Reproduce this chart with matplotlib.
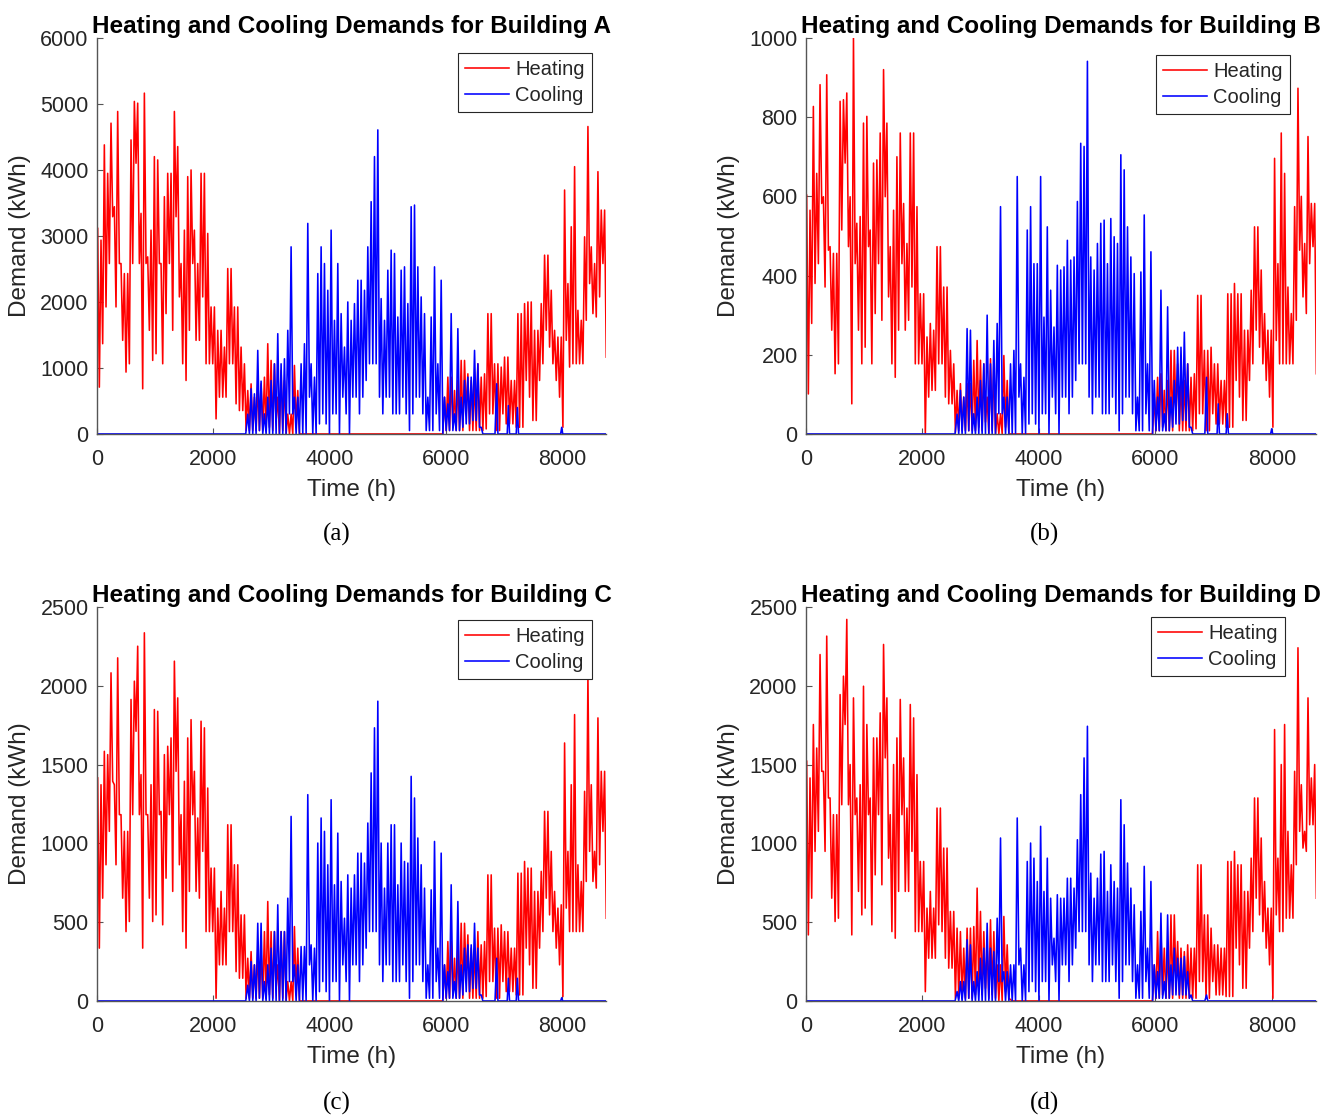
import matplotlib
matplotlib.use("Agg")
import matplotlib.pyplot as plt

plt.rcParams['font.family'] = ['Liberation Sans', 'DejaVu Sans']

# The hourly curves in windows of STEP hours:
# for every window the highest value and then the lowest value.
STEP = 57.4
FIRST = 11.5

def window_hours(k0, n):
    hours = []
    for k in range(k0, k0 + n):
        hours.append(FIRST + STEP * k)
        hours.append(FIRST + STEP * k + STEP / 2)
    return hours

# window ranges (first window index, number of windows)
WINTER = (0, 50)
SPRING = (50, 11)
AUTUMN = (104, 49)
SUMMER = (45, 72)
heat_gap_hours = [3540, 5950]
cool_lead_hours = [0, 2560]
cool_tail_hours = [6850, 6879, 6900, 7060, 7080, 7100, 7215, 7235, 7255, 7980, 7998, 8015, 8760]

# ---------------- Building A ----------------
heat_a_winter = [3114, 709, 2937, 1367, 4380, 1924, 3949, 2582, 4709, 3291, 3443, 1924, 4886, 2582, 2582, 1418, 2430, 937, 2430, 1063,
                 4455, 2582, 5038, 4101, 5012, 2582, 3342, 684, 5164, 2582, 2683, 1570, 3088, 1114, 4202, 1215, 4152, 2582, 2582, 1063,
                 3595, 1823, 3949, 2582, 3949, 1570, 4886, 3291, 4354, 2076, 2582, 1063, 3088, 810, 3899, 1570, 4000, 2582, 3088, 1418,
                 2582, 1418, 3949, 2076, 3949, 1063, 3038, 1063, 1924, 1063, 1924, 228, 1570, 557, 1570, 557, 1316, 557, 2506, 1063,
                 2506, 1063, 1924, 456, 1924, 354, 1316, 354, 1063, 51, 658, 51, 759, 51, 557, 51, 759, 51, 759, 51]
heat_a_spring = [860, 50, 1367, 100, 1114, 50, 1063, 200, 557, 0, 962, 50, 810, 0, 300, 0, 300, 0, 1038, 100, 658, 0]
heat_a_autumn = [557, 51, 861, 51, 861, 101, 658, 51, 810, 51, 1114, 51, 1114, 304, 911, 51, 810, 51, 810, 51,
                 1063, 51, 861, 51, 911, 76, 1823, 304, 1823, 304, 1063, 51, 1063, 51, 1013, 304, 1165, 152, 1165, 152,
                 810, 152, 810, 101, 1823, 101, 1823, 101, 1975, 810, 2000, 557, 2000, 203, 1570, 203, 1570, 810, 1975, 1063,
                 2709, 1570, 2709, 1316, 2177, 1063, 1570, 810, 1468, 557, 1468, 101, 3696, 1418, 2278, 1013, 3139, 1063, 4050, 1063,
                 1873, 1063, 1722, 1063, 2987, 1722, 4658, 2278, 2835, 1823, 2582, 1772, 3974, 2076, 3392, 2582, 3392, 1164]
cool_a_summer = [300, 0, 684, 0, 608, 0, 1266, 50,
                 800, 0, 304, 0, 557, 0, 810, 0, 1063, 0, 1519, 0, 1063, 0, 1139, 0, 1570, 304, 2835, 304,
                 557, 0, 557, 0, 1063, 0, 1367, 0, 3190, 557, 1063, 0, 861, 0, 2430, 152, 2835, 304, 2582, 152,
                 2177, 0, 3088, 304, 1721, 304, 2582, 0, 1823, 557, 1316, 304, 2000, 0, 1721, 557, 1975, 557, 2329, 304,
                 2329, 557, 2177, 810, 2835, 1063, 3519, 1063, 4202, 1063, 4607, 557, 2051, 304, 1721, 557, 2481, 557, 2785, 304,
                 2734, 304, 1772, 304, 2481, 557, 2532, 304, 1975, 51, 3443, 304, 3468, 557, 2532, 557, 2076, 304, 1823, 51,
                 557, 51, 1772, 51,
                 2532, 304, 1063, 51, 2329, 0, 557, 51, 456, 51, 1823, 51, 304, 51, 1595, 51, 557, 101, 810, 152,
                 861, 152, 861, 203, 1266, 203, 1063, 101, 101, 0, 0, 0]
cool_a_tail = [0, 760, 0, 0, 430, 0, 0, 400, 0, 0, 100, 0, 0]

# ---------------- Building B ----------------
heat_b_winter = [603, 101, 565, 279, 827, 380, 658, 430, 882, 582, 599, 371, 907, 464, 473, 262, 456, 152, 456, 177,
                 840, 515, 844, 684, 861, 473, 599, 76, 1000, 430, 532, 262, 549, 177, 785, 219, 802, 473, 515, 177,
                 684, 304, 692, 430, 760, 287, 920, 599, 785, 346, 473, 177, 565, 143, 700, 262, 760, 430, 582, 262,
                 481, 287, 760, 371, 760, 177, 574, 177, 354, 177, 354, 0, 245, 93, 279, 110, 262, 110, 473, 177,
                 473, 177, 371, 93, 371, 76, 211, 76, 177, 4, 110, 8, 127, 8, 93, 8, 127, 8, 127, 8]
heat_b_spring = [186, 8, 236, 17, 186, 8, 177, 30, 93, 0, 190, 8, 177, 0, 51, 0, 51, 0, 198, 17, 135, 0]
heat_b_autumn = [93, 8, 143, 8, 152, 17, 110, 8, 135, 8, 211, 8, 211, 51, 177, 8, 135, 8, 135, 8,
                 177, 8, 143, 8, 152, 13, 350, 51, 350, 51, 211, 8, 211, 8, 219, 51, 177, 25, 177, 25,
                 135, 25, 135, 17, 354, 17, 354, 17, 380, 135, 354, 93, 354, 34, 262, 34, 262, 135, 363, 177,
                 523, 262, 523, 219, 414, 177, 304, 135, 262, 93, 262, 17, 696, 236, 430, 177, 760, 177, 658, 177,
                 371, 177, 304, 177, 574, 287, 873, 464, 600, 346, 481, 304, 751, 430, 582, 473, 582, 152]
cool_b_summer = [50, 0, 110, 0, 93, 0, 266, 8,
                 262, 0, 51, 0, 93, 0, 135, 0, 177, 0, 300, 0, 177, 0, 236, 0, 279, 51, 574, 51,
                 93, 0, 93, 0, 177, 0, 211, 0, 650, 93, 177, 0, 143, 0, 515, 25, 574, 51, 430, 25,
                 430, 0, 650, 51, 295, 51, 523, 0, 363, 93, 270, 51, 426, 0, 414, 93, 422, 93, 489, 51,
                 439, 93, 447, 135, 587, 177, 734, 177, 726, 177, 941, 93, 447, 51, 414, 93, 481, 93, 532, 51,
                 540, 51, 430, 51, 544, 93, 498, 51, 481, 8, 705, 51, 667, 93, 523, 93, 447, 51, 405, 8,
                 93, 8, 409, 8,
                 553, 51, 177, 8, 460, 0, 135, 8, 93, 8, 363, 8, 51, 8, 321, 8, 93, 17, 135, 25,
                 219, 25, 219, 34, 257, 34, 177, 17, 17, 0, 0, 0]
cool_b_tail = [0, 143, 0, 0, 76, 0, 0, 51, 0, 0, 13, 0, 0]

# ---------------- Building C ----------------
heat_c_winter = [1415, 335, 1372, 652, 1584, 864, 1563, 1076, 2082, 1394, 1372, 864, 2177, 1182, 1182, 652, 1076, 440, 1076, 504,
                 1913, 1182, 2029, 1711, 2251, 1182, 1436, 335, 2336, 1182, 1182, 652, 1372, 504, 1849, 546, 1838, 1182, 1203, 483,
                 1563, 779, 1616, 1182, 1669, 695, 2156, 1457, 1923, 864, 1182, 440, 1394, 335, 1669, 695, 1785, 1182, 1457, 695,
                 1161, 652, 1775, 949, 1733, 440, 1351, 440, 843, 440, 843, 17, 589, 229, 695, 229, 589, 229, 1118, 440,
                 1118, 440, 864, 186, 864, 144, 546, 144, 546, 17, 271, 17, 313, 17, 229, 17, 313, 17, 313, 17]
heat_c_spring = [440, 17, 631, 40, 440, 17, 440, 80, 229, 0, 440, 17, 440, 0, 123, 0, 123, 0, 472, 40, 335, 0]
heat_c_autumn = [229, 17, 377, 17, 377, 38, 271, 17, 335, 17, 493, 17, 493, 123, 419, 17, 335, 17, 335, 17,
                 440, 17, 356, 17, 377, 28, 800, 123, 800, 123, 462, 17, 462, 17, 483, 123, 440, 59, 440, 59,
                 335, 59, 335, 38, 811, 38, 811, 38, 885, 335, 843, 229, 843, 80, 695, 80, 695, 335, 822, 440,
                 1203, 652, 1203, 546, 949, 440, 695, 335, 589, 229, 610, 28, 1637, 589, 949, 440, 1372, 440, 1817, 440,
                 864, 440, 758, 440, 1330, 758, 2061, 949, 1372, 758, 949, 716, 1796, 864, 1457, 1076, 1457, 525]
cool_c_summer = [100, 0, 250, 0, 229, 0, 493, 17,
                 493, 0, 123, 0, 229, 0, 335, 0, 440, 0, 610, 0, 440, 0, 440, 0, 652, 123, 1171, 123,
                 229, 0, 229, 0, 345, 0, 345, 0, 1309, 229, 356, 0, 335, 0, 1002, 59, 1161, 123, 1076, 59,
                 864, 0, 1277, 123, 737, 123, 1065, 0, 758, 229, 525, 123, 800, 0, 716, 229, 800, 229, 938, 123,
                 938, 229, 875, 335, 1129, 440, 1447, 440, 1733, 440, 1902, 229, 1002, 123, 716, 229, 1002, 229, 1118, 123,
                 1118, 123, 737, 123, 1002, 229, 885, 123, 875, 17, 1425, 123, 1288, 229, 1034, 229, 864, 123, 716, 17,
                 229, 17, 705, 17,
                 1012, 123, 335, 17, 938, 0, 229, 17, 186, 17, 737, 17, 123, 17, 631, 17, 229, 38, 335, 59,
                 356, 59, 356, 80, 493, 80, 335, 38, 38, 0, 0, 0]
cool_c_tail = [0, 271, 0, 0, 144, 0, 0, 144, 0, 0, 20, 0, 0]

# ---------------- Building D ----------------
heat_d_winter = [1521, 419, 1415, 652, 1754, 949, 1605, 1076, 2198, 1457, 1457, 949, 2315, 1288, 1288, 652, 1182, 504, 1182, 525,
                 1944, 1245, 2061, 1754, 2421, 1245, 1500, 419, 1923, 1182, 1288, 695, 1372, 546, 1997, 589, 1754, 1182, 1288, 483,
                 1669, 800, 1669, 1182, 1828, 737, 2262, 1542, 1923, 906, 1182, 440, 1500, 398, 1669, 695, 1913, 1182, 1542, 695,
                 1224, 695, 1881, 949, 1796, 440, 1436, 440, 885, 440, 885, 59, 589, 271, 695, 271, 589, 271, 1224, 483,
                 1224, 440, 970, 271, 970, 208, 568, 208, 568, 17, 462, 17, 440, 17, 335, 17, 462, 17, 462, 17]
heat_d_spring = [472, 40, 716, 80, 568, 40, 440, 80, 335, 17, 515, 40, 440, 17, 229, 0, 229, 0, 536, 60, 356, 17]
heat_d_autumn = [229, 17, 440, 17, 440, 38, 335, 17, 335, 17, 546, 17, 546, 123, 377, 17, 335, 17, 313, 17,
                 356, 17, 335, 17, 335, 17, 864, 123, 864, 123, 546, 17, 546, 17, 462, 123, 356, 38, 356, 38,
                 335, 38, 335, 28, 885, 28, 885, 28, 949, 335, 864, 229, 864, 80, 695, 80, 695, 335, 906, 440,
                 1288, 652, 1288, 546, 1034, 440, 758, 335, 589, 229, 589, 17, 1722, 546, 906, 440, 1500, 440, 1754, 525,
                 1076, 525, 864, 525, 1457, 864, 2241, 1076, 1372, 970, 1076, 949, 1923, 1118, 1415, 1118, 1500, 652]
cool_d_summer = [60, 0, 123, 0, 123, 0, 388, 17,
                 356, 0, 123, 0, 186, 0, 271, 0, 335, 0, 493, 0, 335, 0, 313, 0, 525, 123, 1034, 123,
                 186, 0, 186, 0, 229, 0, 229, 0, 1161, 229, 335, 0, 229, 0, 885, 59, 1002, 123, 906, 59,
                 758, 0, 1108, 123, 695, 123, 906, 0, 652, 229, 398, 123, 674, 0, 652, 229, 652, 229, 779, 123,
                 779, 229, 716, 335, 1023, 440, 1309, 440, 1542, 440, 1743, 229, 811, 123, 652, 229, 779, 229, 932, 123,
                 949, 123, 695, 123, 864, 229, 758, 123, 716, 17, 1277, 123, 1118, 229, 875, 229, 716, 123, 610, 17,
                 229, 17, 568, 17,
                 854, 123, 335, 17, 758, 0, 229, 17, 186, 17, 557, 17, 123, 17, 546, 17, 229, 38, 335, 38,
                 271, 38, 271, 38, 282, 38, 186, 17, 38, 0, 0, 0]
cool_d_tail = [0, 38, 0, 0, 0, 0, 0, 0, 0, 0, 0, 0, 0]

buildings = ['A', 'B', 'C', 'D']
panel_tags = ['(a)', '(b)', '(c)', '(d)']
heat_parts = [(heat_a_winter, heat_a_spring, heat_a_autumn),
              (heat_b_winter, heat_b_spring, heat_b_autumn),
              (heat_c_winter, heat_c_spring, heat_c_autumn),
              (heat_d_winter, heat_d_spring, heat_d_autumn)]
cool_parts = [(cool_a_summer, cool_a_tail), (cool_b_summer, cool_b_tail),
              (cool_c_summer, cool_c_tail), (cool_d_summer, cool_d_tail)]
y_tops = [6000, 1000, 2500, 2500]
y_steps = [1000, 200, 500, 500]

heat_hours = (window_hours(*WINTER) + window_hours(*SPRING) + heat_gap_hours
              + window_hours(*AUTUMN))
cool_hours = cool_lead_hours + window_hours(*SUMMER) + cool_tail_hours

# axes boxes in figure fractions [left, bottom, width, height]
boxes = [[0.0725, 0.6122, 0.3804, 0.3539],
         [0.6024, 0.6122, 0.3812, 0.3539],
         [0.0725, 0.1055, 0.3804, 0.3521],
         [0.6024, 0.1055, 0.3812, 0.3521]]
legend_anchor = [(0.9725, 0.962), (0.949, 0.957), (0.9725, 0.967), (0.939, 0.975)]
tag_pos = [(0.2519, 0.522), (0.781, 0.522), (0.2519, 0.014), (0.781, 0.014)]

fig = plt.figure(figsize=(13.38, 11.19), dpi=100)
txt = '#262626'

for i in range(4):
    winter, spring, autumn = heat_parts[i]
    heat = winter + spring + [0, 0] + autumn
    summer, tail = cool_parts[i]
    cool = [0, 0] + summer + tail
    assert len(heat) == len(heat_hours), (i, len(heat), len(heat_hours))
    assert len(cool) == len(cool_hours), (i, len(cool), len(cool_hours))

    ax = fig.add_axes(boxes[i])
    ax.plot(heat_hours, heat, color='#ff0000', lw=1.15, label='Heating')
    ax.plot(cool_hours, cool, color='#0000ff', lw=1.15, label='Cooling')
    ax.set_xlim(0, 8760)
    ax.set_ylim(0, y_tops[i])
    ax.set_xticks(range(0, 8001, 2000))
    ax.set_yticks(range(0, y_tops[i] + 1, y_steps[i]))
    for s in ['top', 'right']:
        ax.spines[s].set_visible(False)
    for s in ['left', 'bottom']:
        ax.spines[s].set_color('#555555')
        ax.spines[s].set_linewidth(1.0)
    ax.tick_params(direction='in', length=4, width=0.8, colors='#555555',
                   labelsize=15.5, labelcolor=txt)
    ax.tick_params(axis='x', pad=11)
    ax.tick_params(axis='y', pad=6)
    ax.set_xlabel('Time (h)', fontsize=17.5, color=txt, labelpad=6)
    ax.set_ylabel('Demand (kWh)', fontsize=17.5, color=txt, labelpad=7)
    ax.set_title('Heating and Cooling Demands for Building ' + buildings[i],
                 fontsize=17.5, fontweight='bold', color='black', pad=3)
    leg = ax.legend(loc='upper right', bbox_to_anchor=legend_anchor[i], borderaxespad=0,
                    fontsize=14.5, fancybox=False, framealpha=1, edgecolor='#262626',
                    handlelength=2.2, handletextpad=0.3, borderpad=0.35, labelspacing=0.35)
    leg.get_frame().set_linewidth(0.8)
    for t in leg.get_texts():
        t.set_color(txt)
    fig.text(tag_pos[i][0], tag_pos[i][1], panel_tags[i], ha='center', va='center',
             fontsize=18, family=['Liberation Serif', 'DejaVu Serif'], color='black')

fig.savefig('out.png', dpi=100)
